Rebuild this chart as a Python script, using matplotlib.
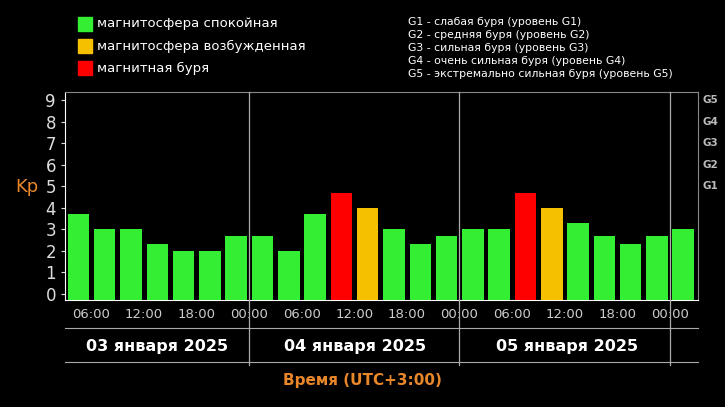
import matplotlib
matplotlib.use("Agg")
import matplotlib.pyplot as plt

kp = [3.7, 3.0, 3.0, 2.3, 2.0, 2.0, 2.7,
      2.7, 2.0, 3.7, 4.7, 4.0, 3.0, 2.3, 2.7,
      3.0, 3.0, 4.7, 4.0, 3.3, 2.7, 2.3, 2.7, 3.0]
tick_labels = ["06:00", "12:00", "18:00", "00:00"] * 3
days = ["03 января 2025", "04 января 2025", "05 января 2025"]
legend_items = [("магнитосфера спокойная", "#33ee33"), ("магнитосфера возбужденная", "#f5c000"), ("магнитная буря", "#ff0000")]
g_text = ["G1 - слабая буря (уровень G1)", "G2 - средняя буря (уровень G2)", "G3 - сильная буря (уровень G3)",
          "G4 - очень сильная буря (уровень G4)", "G5 - экстремально сильная буря (уровень G5)"]

def color(v):
    return "#ff0000" if v >= 4.5 else ("#f5c000" if v >= 4 else "#33ee33")

W, H = 725, 407
fig = plt.figure(figsize=(W/100, H/100), dpi=100, facecolor="black")
ax = fig.add_axes([65/W, 1-300/H, (698-65)/W, (300-92)/H], facecolor="black")
y0, y1 = -0.28, 9.37
ax.set_ylim(y0, y1); ax.set_xlim(0, 24.07)
x = list(range(len(kp)))
ax.bar([i + 0.1 for i in x], [v - y0 for v in kp], bottom=y0, width=0.82, align="edge",
       color=[color(v) for v in kp], zorder=3)
for s in ["top", "right"]:
    ax.spines[s].set_color("#888888")
for s in ["left", "bottom"]:
    ax.spines[s].set_color("white")
ax.set_yticks(range(10))
ax.set_yticklabels([str(i) for i in range(10)], color="#dddddd", fontsize=12)
ax.tick_params(axis="y", colors="#dddddd", length=3)
ax.set_xticks([1 + 2*i for i in range(12)])
ax.set_xticklabels(tick_labels, color="#cccccc", fontsize=9.5)
ax.tick_params(axis="x", colors="#cccccc", length=0, pad=6)
for b in [7, 15, 23]:
    ax.plot([b, b], [y0, y1], color="#aaaaaa", lw=0.9, zorder=4, clip_on=False)
    ax.plot([b, b], [y0, y0 - 3.0], color="#aaaaaa", lw=0.9, clip_on=False)
for gi in range(5):
    ax.text(24.25, 5 + gi, f"G{gi+1}", color="#bbbbbb", fontsize=7.5, va="center", fontweight="bold")
for yp in [328, 362]:
    fig.add_artist(plt.Line2D([65/W, 698/W], [1-yp/H]*2, color="#aaaaaa", lw=0.8))
for d, xc in zip(days, [157, 355, 567]):
    fig.text(xc/W, 1-346/H, d, color="white", fontsize=11.5, fontweight="bold", ha="center", va="center")
fig.text(362/W, 1-381/H, "Время (UTC+3:00)", color="#e8862a", fontsize=11, fontweight="bold", ha="center", va="center")
fig.text(27/W, 1-187/H, "Kp", color="#e8862a", fontsize=13, ha="center", va="center")
for k, (t, c) in enumerate(legend_items):
    yy = 1 - (24 + 22*k)/H
    fig.patches.append(plt.Rectangle((78/W, yy - 7/H), 14/W, 14/H, color=c, transform=fig.transFigure))
    fig.text(97/W, yy, t, color="white", fontsize=9.5, va="center")
for k, t in enumerate(g_text):
    fig.text(408/W, 1-(22+13*k)/H, t, color="white", fontsize=7.8, va="center")
fig.savefig("out.png", dpi=100, facecolor="black")
